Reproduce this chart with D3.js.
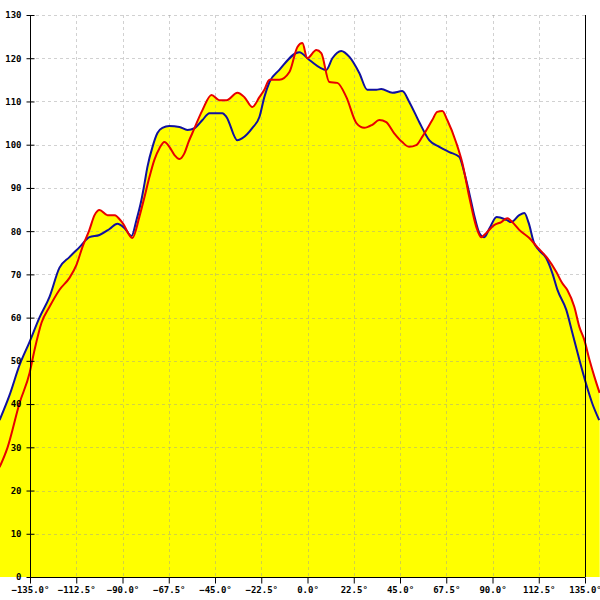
<!DOCTYPE html>
<html><head><meta charset="utf-8">
<script src="https://cdn.jsdelivr.net/npm/d3@7"></script>
<style>html,body{margin:0;padding:0;background:#fff;}svg{display:block;}</style>
</head><body>
<script>
const xTicks = [-135, -112.5, -90, -67.5, -45, -22.5, 0, 22.5, 45, 67.5, 90, 112.5, 135];
const yTicks = [0,10,20,30,40,50,60,70,80,90,100,110,120,130];

const blueAngles = [-149.8,-145.0,-140.1,-135.2,-130.4,-125.5,-120.7,-115.8,-110.9,-106.1,-101.2,-96.3,-92.5,-89.0,-85.6,-83.2,-80.8,-79.3,-77.9,-75.4,-73.0,-70.6,-67.2,-62.3,-58.4,-55.0,-51.1,-47.7,-44.3,-41.4,-39.4,-34.1,-31.7,-26.8,-23.4,-21.0,-18.5,-13.7,-4.0,0.9,9.1,12.1,16.4,20.4,25.2,29.1,33.5,35.9,41.3,46.1,49.5,54.4,59.3,64.1,69.0,73.8,76.3,78.7,81.1,83.6,86.0,88.6,92.0,96.8,99.1,103.0,105.5,107.6,110.2,112.6,116.1,119.1,121.6,125.9,128.9,132.3,135.7,138.5,141.9];
const blueValues = [36.3,42,49,54.4,60,64.8,71.5,74,76.3,78.6,79.1,80.5,81.7,80.7,78.9,82.6,87.2,91,94.8,99.5,102.7,103.9,104.3,104.1,103.4,103.8,105.7,107.3,107.3,107.3,106.4,101,101.5,103.9,106.4,111,114.5,117.3,121.4,119.6,117.3,120,121.7,120.3,116.6,112.7,112.7,112.9,112,112.4,109.9,105.2,101,99.5,98.3,97.2,93.5,88.8,83.7,79.6,78.6,80.7,83.3,82.6,82.1,83.7,84.2,81.9,77.3,75.6,73.8,70.3,66.4,61.8,56.4,50.2,44.4,40.2,36.3];

const redAngles = [-149.8,-145.9,-140.1,-135.2,-132.8,-129.4,-125.5,-120.7,-115.8,-112.4,-109.5,-106.1,-103.6,-101.2,-97.3,-93.9,-90.0,-85.2,-81.8,-79.3,-76.9,-74.5,-72.0,-69.6,-67.2,-64.7,-62.3,-59.9,-57.9,-56.0,-51.1,-46.7,-42.9,-39.4,-34.1,-30.7,-26.8,-23.4,-21.0,-18.5,-13.7,-8.8,-4.9,-2.5,-0.1,4.3,6.7,10.6,14.5,18.9,23.8,27.6,31.5,34.9,38.3,42.1,46.1,49.5,52.9,55.8,60.7,63.1,65.6,68.0,72.4,75.3,78.7,82.1,84.5,87.0,90.8,94.3,97.2,99.6,103.0,107.9,111.8,116.6,121.0,123.9,126.4,129.8,132.3,134.7,137.2,139.6,142.1];
const redValues = [25.4,30,40.2,47.2,52.5,58.8,62.5,66.4,69.2,72.2,76.3,80.3,83.7,84.9,83.7,83.7,81.9,78.4,83.3,87.9,92.5,96.5,99.2,100.6,99.5,97.6,96.7,98,100.6,102.7,108,111.5,110.3,110.3,112,111,108.7,111,112.7,115,115,116.8,122.6,123.5,120,121.9,121.2,114.5,114.3,111,105,103.9,104.6,105.7,105.2,102.7,100.6,99.5,99.9,101.8,105.7,107.6,107.8,105.7,100.4,95.8,87.9,81,78.6,79.6,81.4,82.1,83,82.1,80.3,78.4,76.3,73.8,70.6,68,66.4,62.5,57.8,54.8,50.2,46.3,42.6];

const W = 600, H = 600;
const x = d3.scaleLinear().domain([-135, 135]).range([30, 585]);
const y = d3.scaleLinear().domain([0, 130]).range([577, 15]);

const svg = d3.select("body").append("svg").attr("width", W).attr("height", H);

const blue = blueAngles.map((a, i) => [a, blueValues[i]]);
const red = redAngles.map((a, i) => [a, redValues[i]]);

const area = d3.area().x(d => x(d[0])).y0(y(0)).y1(d => y(d[1])).curve(d3.curveMonotoneX);
const line = d3.line().x(d => x(d[0])).y(d => y(d[1])).curve(d3.curveMonotoneX);

svg.append("path").datum(blue).attr("d", area).attr("fill", "#ffff00");
svg.append("path").datum(red).attr("d", area).attr("fill", "#ffff00");

// grid
const grid = svg.append("g").attr("stroke", "#999").attr("stroke-opacity", 0.45)
  .attr("stroke-dasharray", "3,3").attr("stroke-width", 1);
grid.selectAll("line.h").data(yTicks.filter(v => v > 0)).join("line")
  .attr("x1", x(-135)).attr("x2", x(135))
  .attr("y1", d => Math.round(y(d)) + 0.5).attr("y2", d => Math.round(y(d)) + 0.5);
grid.selectAll("line.v").data(xTicks.filter(v => Math.abs(v) < 135)).join("line")
  .attr("y1", y(130)).attr("y2", y(0))
  .attr("x1", d => Math.round(x(d)) + 0.5).attr("x2", d => Math.round(x(d)) + 0.5);

svg.append("path").datum(blue).attr("d", line).attr("fill", "none")
  .attr("stroke", "#1010a0").attr("stroke-width", 2);
svg.append("path").datum(red).attr("d", line).attr("fill", "none")
  .attr("stroke", "#e80000").attr("stroke-width", 2);

// axes
const axisY = d3.axisLeft(y).tickValues(yTicks).tickSize(4).tickPadding(5).tickFormat(d3.format("d"));
const gy = svg.append("g").attr("transform", "translate(30.5,0)").call(axisY);
gy.select(".domain").remove();
gy.selectAll(".tick line").attr("x1", -4).attr("x2", 4).attr("stroke", "#000");
gy.append("line").attr("x1", 0).attr("x2", 0).attr("y1", y(130)).attr("y2", y(0)).attr("stroke", "#000");

const axisX = d3.axisBottom(x).tickValues(xTicks).tickSize(6).tickPadding(3)
  .tickFormat(d => d3.format(".1f")(d) + "°");
const gx = svg.append("g").attr("transform", "translate(0,577.5)").call(axisX);
gx.select(".domain").remove();
gx.append("line").attr("x1", x(-135)).attr("x2", x(135)).attr("stroke", "#000");

svg.append("line").attr("x1", x(135) + 0.5).attr("x2", x(135) + 0.5)
  .attr("y1", y(130)).attr("y2", y(0)).attr("stroke", "#000");

svg.selectAll(".tick text").attr("font-family", "DejaVu Sans Mono").attr("font-size", 9)
  .attr("font-weight", "bold").attr("fill", "#000");
gy.selectAll(".tick text").attr("x", -9);
</script>
</body></html>
